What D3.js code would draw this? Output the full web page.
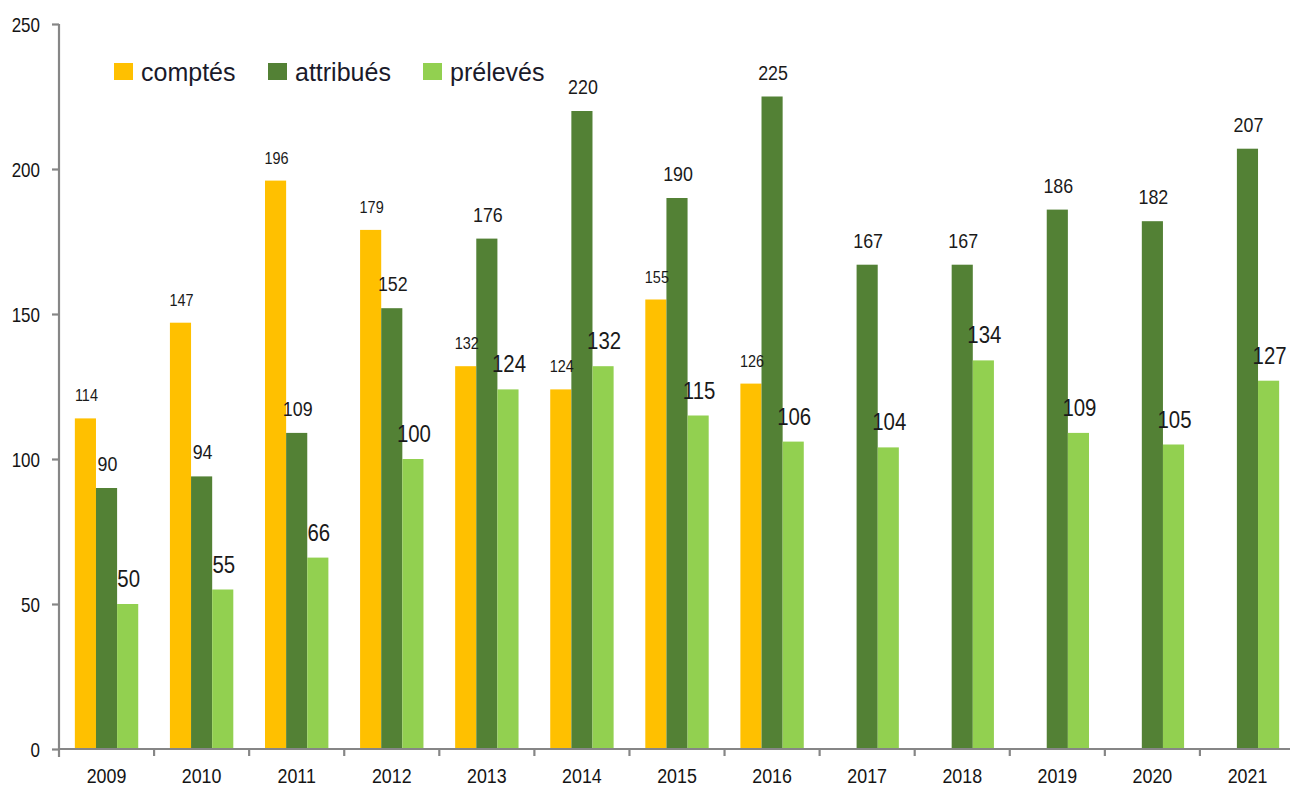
<!DOCTYPE html>
<html><head><meta charset="utf-8">
<script src="https://cdn.jsdelivr.net/npm/d3@7"></script>
<style>
html,body{margin:0;padding:0;background:#fff;}
svg{display:block;font-family:"Liberation Sans",Arial,sans-serif;}
</style></head>
<body>
<script>
const years = ["2009","2010","2011","2012","2013","2014","2015","2016","2017","2018","2019","2020","2021"];
const comptes   = [114,147,196,179,132,124,155,126,null,null,null,null,null];
const attribues = [90,94,109,152,176,220,190,225,167,167,186,182,207];
const preleves  = [50,55,66,100,124,132,115,106,104,134,109,105,127];
const seriesNames = ["comptés","attribués","prélevés"];
const seriesValues = [comptes, attribues, preleves];
const colors = ["#FFC000","#538135","#92D050"];
const labelSizes = [17,21,24];
const yTicks = [0,50,100,150,200,250];

const W = 1290, H = 787;
const mLeft = 59, mRight = 1295, mTop = 24, mBottom = 749;
const sx = 0.85;

const svg = d3.select("body").append("svg").attr("width", W).attr("height", H);

const x0 = d3.scaleBand().domain(years).range([mLeft, mRight]).paddingInner(0).paddingOuter(0);
const step = x0.bandwidth();
const gap = step / 4.5 * 1.5;
const x1 = d3.scaleBand().domain(seriesNames).range([gap/2, step - gap/2]).padding(0);
const y = d3.scaleLinear().domain([0,250]).range([mBottom, mTop]);

// bars
seriesNames.forEach((s, si) => {
  const data = years.map((yr, i) => ({yr, v: seriesValues[si][i]})).filter(d => d.v != null);
  svg.append("g").selectAll("rect").data(data).join("rect")
    .attr("x", d => x0(d.yr) + x1(s))
    .attr("width", x1.bandwidth())
    .attr("y", d => y(d.v))
    .attr("height", d => y(0) - y(d.v))
    .attr("fill", colors[si]);
});

// value labels
seriesNames.forEach((s, si) => {
  const data = years.map((yr, i) => ({yr, v: seriesValues[si][i]})).filter(d => d.v != null);
  svg.append("g").selectAll("text").data(data).join("text")
    .attr("transform", d => `translate(${x0(d.yr) + x1(s) + x1.bandwidth()/2 + 1},${y(d.v) - 17}) scale(${sx},1)`)
    .attr("text-anchor", "middle")
    .attr("font-size", labelSizes[si])
    .attr("fill", "#1a1a1a")
    .text(d => d.v);
});

// y axis
const yAxis = svg.append("g").attr("transform", `translate(${mLeft},0)`)
  .call(d3.axisLeft(y).tickValues(yTicks).tickSize(7).tickSizeOuter(0));
yAxis.select(".domain").attr("stroke", "#868686").attr("stroke-width", 2.2)
  .attr("d", `M0,${mTop}V${mBottom + 8}`);
yAxis.selectAll(".tick line").attr("stroke", "#868686").attr("stroke-width", 2.2);
yAxis.selectAll(".tick text")
  .attr("x", null).attr("dy", "0.36em")
  .attr("transform", `translate(-19,0) scale(${sx},1)`)
  .attr("font-size", 20).attr("fill", "#141414")
  .attr("font-family", "Liberation Sans, Arial, sans-serif");

// x axis
svg.append("line").attr("x1", mLeft).attr("x2", W).attr("y1", mBottom).attr("y2", mBottom)
  .attr("stroke", "#868686").attr("stroke-width", 2.2);
svg.append("g").selectAll("line").data(years.slice(1)).join("line")
  .attr("x1", d => x0(d)).attr("x2", d => x0(d))
  .attr("y1", mBottom).attr("y2", mBottom + 7)
  .attr("stroke", "#868686").attr("stroke-width", 2.2);
svg.append("g").selectAll("text").data(years).join("text")
  .attr("transform", d => `translate(${x0(d) + step/2},${783}) scale(${sx},1)`)
  .attr("text-anchor", "middle").attr("font-size", 21).attr("fill", "#141414")
  .text(d => d);

// legend
const legendX = [114, 268, 423];
const lg = svg.append("g");
seriesNames.forEach((s, i) => {
  lg.append("rect").attr("x", legendX[i]).attr("y", 63).attr("width", 19).attr("height", 17).attr("fill", colors[i]);
  lg.append("text").attr("x", legendX[i] + 27).attr("y", 81)
    .attr("font-size", 25).attr("fill", "#1a1a2a").text(s);
});
</script>
</body></html>
